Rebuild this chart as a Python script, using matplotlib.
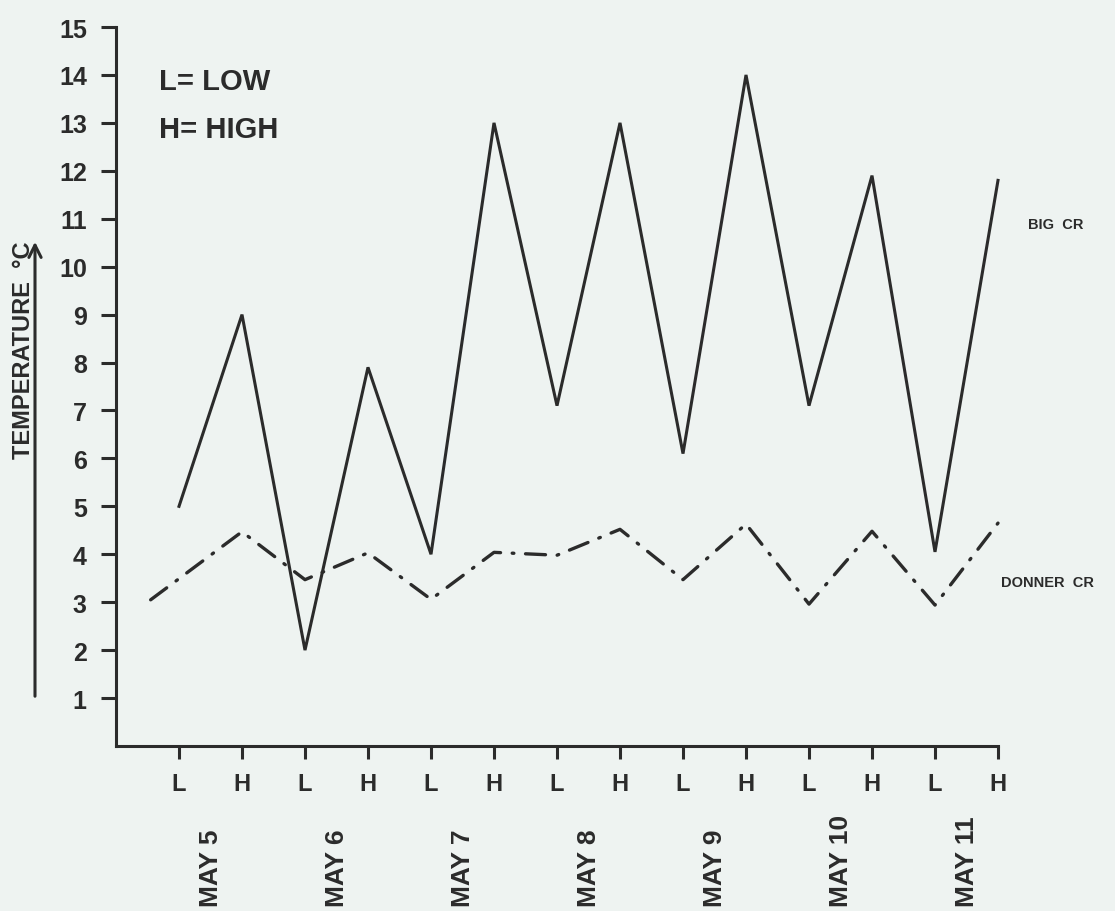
import matplotlib
matplotlib.use('Agg')
import matplotlib.pyplot as plt
import matplotlib.transforms as mtransforms

# Data.
tick_labels = ['L', 'H'] * 7
dates = ['MAY 5', 'MAY 6', 'MAY 7', 'MAY 8', 'MAY 9', 'MAY 10', 'MAY 11']
big_x = list(range(14))
big_cr = [5, 9, 2, 7.9, 4, 13, 7.1, 13, 6.1, 14, 7.1, 11.9, 4.05, 11.8]
donner_x = [-0.45, 1, 2, 3, 4, 5, 6, 7, 8, 9, 10, 11, 12, 13]
donner_cr = [3.05, 4.47, 3.47, 4.03, 3.06, 4.04, 3.98, 4.52, 3.47, 4.63, 2.96, 4.48, 2.94, 4.65]

ink = '#2b2b2b'
bg = '#eef3f1'
plt.rcParams['font.family'] = ['Liberation Sans', 'DejaVu Sans']
plt.rcParams['font.weight'] = 'bold'

fig = plt.figure(figsize=(11.15, 9.12), dpi=100, facecolor=bg)
ax = fig.add_axes([116 / 1115, 1 - 747 / 912, (998 - 116) / 1115, (747 - 28) / 912])
ax.set_facecolor(bg)

# Lines.
ax.plot(big_x, big_cr, color=ink, lw=2.2, solid_joinstyle='miter', clip_on=False)
ax.plot(donner_x, donner_cr, color=ink, lw=2.4, dashes=(6, 3.5, 0.5, 3.5),
        dash_capstyle='round', clip_on=False)

# Axes.
ax.set_xlim(-1, 13)
ax.set_ylim(0, 15)
for s in ['top', 'right']:
    ax.spines[s].set_visible(False)
for s in ['left', 'bottom']:
    ax.spines[s].set_linewidth(2.2)
    ax.spines[s].set_color(ink)

ax.set_yticks(range(1, 16))
ax.set_yticklabels([str(v) for v in range(1, 16)], fontsize=18, fontweight='bold', color=ink)
ax.tick_params(axis='y', direction='out', length=11, width=2.2, color=ink, pad=10)
ax.set_xticks(big_x)
ax.set_xticklabels(tick_labels, fontsize=17, fontweight='bold', color=ink)
ax.tick_params(axis='x', direction='out', length=9, width=2.2, color=ink, pad=10)

# Date labels under each L/H pair.
trans = mtransforms.blended_transform_factory(ax.transData, ax.transAxes)
for i, d in enumerate(dates):
    ax.text(2 * i + 0.5, -0.222, d, transform=trans, rotation=90, ha='center',
            va='bottom', fontsize=19, fontweight='bold', color=ink)

# Key.
ax.text(-0.32, 13.7, 'L= LOW', fontsize=21, fontweight='bold', color=ink)
ax.text(-0.32, 12.7, 'H= HIGH', fontsize=21, fontweight='bold', color=ink)

# Series labels.
ax.text(13.47, 10.9, 'BIG  CR', fontsize=10.5, fontweight='bold', color=ink,
        va='center', clip_on=False)
ax.text(13.04, 3.42, 'DONNER  CR', fontsize=10.5, fontweight='bold', color=ink,
        va='center', clip_on=False)

# Y label with underline arrow.
fig.text(24 / 1115, 1 - 350 / 912, 'TEMPERATURE  \u00b0C', rotation=90, ha='center',
         va='center', fontsize=17, fontweight='bold', color=ink)
ax.annotate('', xy=(35 / 1115, 1 - 240 / 912), xytext=(35 / 1115, 1 - 700 / 912),
            xycoords='figure fraction', textcoords='figure fraction',
            arrowprops=dict(arrowstyle='->', color=ink, lw=2.2, mutation_scale=22))

fig.savefig('out.png', dpi=100, facecolor=bg)
